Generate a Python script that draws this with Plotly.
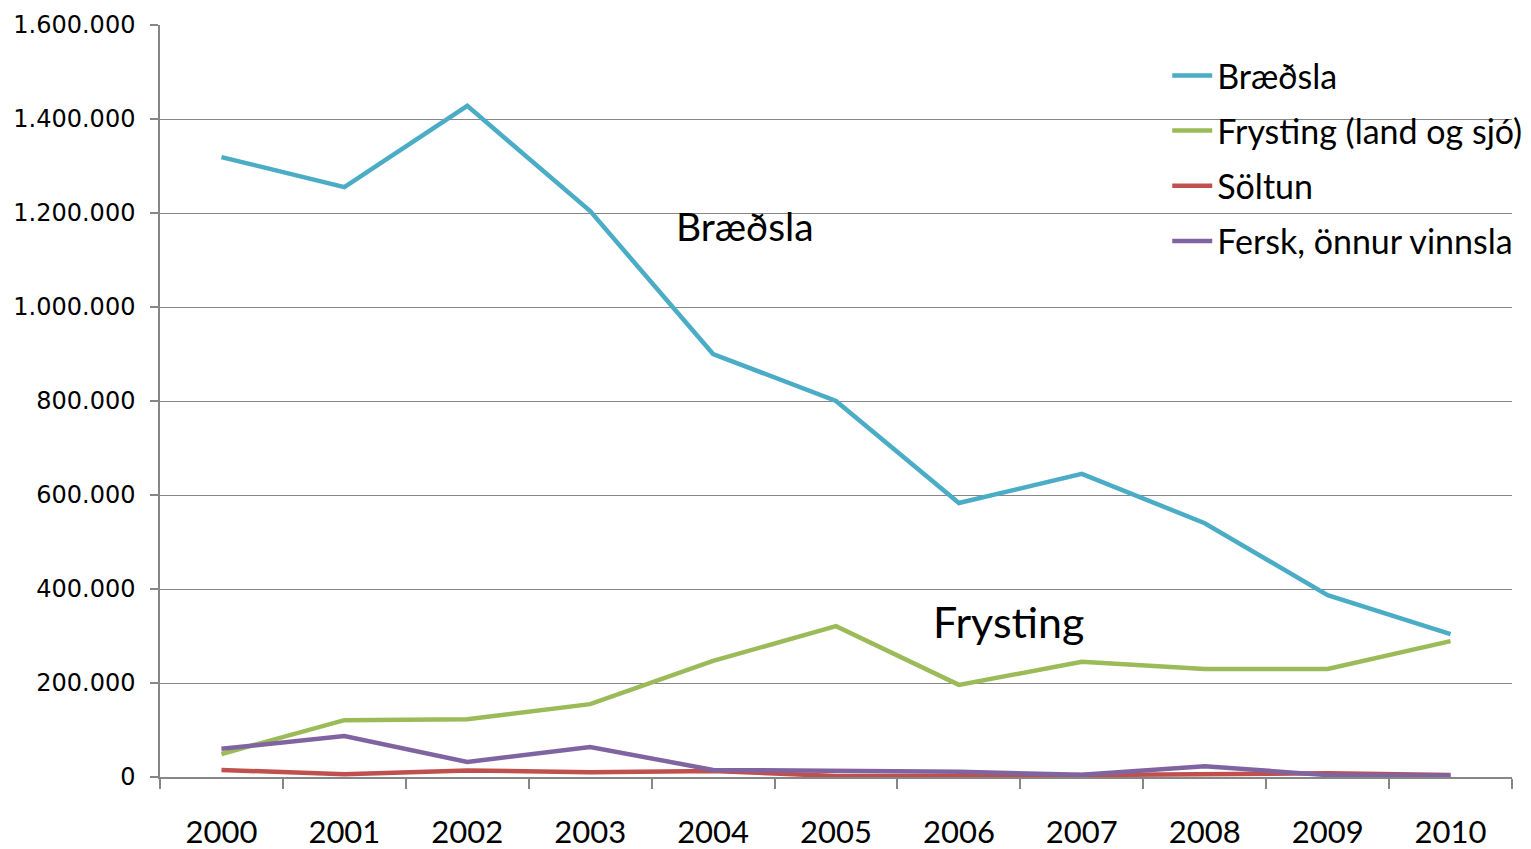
import plotly.graph_objects as go

years = ["2000", "2001", "2002", "2003", "2004", "2005", "2006", "2007", "2008", "2009", "2010"]
braedsla = [1319000, 1255000, 1428000, 1204000, 900000, 800000, 583000, 645000, 540000, 387000, 304000]
frysting = [49000, 121000, 123000, 155000, 247000, 321000, 196000, 245000, 230000, 230000, 289000]
soltun = [15000, 6000, 14000, 10000, 13000, 2000, 2000, 4000, 7000, 8000, 4000]
fersk = [60000, 87000, 32000, 64000, 15000, 13000, 11000, 5000, 23000, 4000, 3000]

series_names = ["Bræðsla", "Frysting (land og sjó)", "Söltun", "Fersk, önnur vinnsla"]
colors = ["#4BACC6", "#9BBB59", "#C0504D", "#8064A2"]
y_tickvals = [0, 200000, 400000, 600000, 800000, 1000000, 1200000, 1400000, 1600000]
y_ticktext = ["0", "200.000", "400.000", "600.000", "800.000", "1.000.000", "1.200.000", "1.400.000", "1.600.000"]

fig = go.Figure()
for i, (name, vals, col) in enumerate(zip(series_names, [braedsla, frysting, soltun, fersk], colors)):
    fig.add_trace(go.Scatter(x=years, y=vals, name=name, mode="lines", legendgroup=f"g{i}",
                             line=dict(color=col, width=4.5)))

fig.add_annotation(x=4.26, y=1172000, text="Bræðsla", showarrow=False,
                   font=dict(family="Lato, Open Sans, sans-serif", size=39, color="black"))
fig.add_annotation(x=6.4, y=330000, text="Frysting", showarrow=False,
                   font=dict(family="Lato, Open Sans, sans-serif", size=43, color="black"))

fig.update_layout(
    width=1531, height=849,
    margin=dict(l=160, r=19, t=25, b=72, autoexpand=False),
    plot_bgcolor="white", paper_bgcolor="white",
    showlegend=True,
    legend=dict(x=0.745, y=0.971, xanchor="left", yanchor="top",
                bgcolor="rgba(0,0,0,0)",
                font=dict(family="Lato, Open Sans, sans-serif", size=34, color="black"),
                tracegroupgap=8, itemwidth=40),
    xaxis=dict(type="category", range=[-0.5, 10.5], tickson="boundaries", automargin=False,
               ticks="outside", ticklen=10, tickcolor="#868686", tickwidth=1.5,
               showline=True, linecolor="#868686", linewidth=1.5,
               showgrid=False, zeroline=False,
               ticklabelstandoff=27,
               tickfont=dict(family="Lato, Open Sans, sans-serif", size=31, color="black")),
    yaxis=dict(range=[0, 1600000], tickvals=y_tickvals, ticktext=y_ticktext, automargin=False,
               ticks="outside", ticklen=8, tickcolor="#868686", tickwidth=1.5,
               showline=True, linecolor="#868686", linewidth=1.5,
               showgrid=True, gridcolor="#868686", gridwidth=1.2, zeroline=False,
               ticklabelstandoff=10,
               tickfont=dict(family="DejaVu Sans, Verdana, sans-serif", size=24, color="black")),
)

fig.write_html("out.html", config={"displayModeBar": False},
               post_script="document.body.style.margin='0';")
